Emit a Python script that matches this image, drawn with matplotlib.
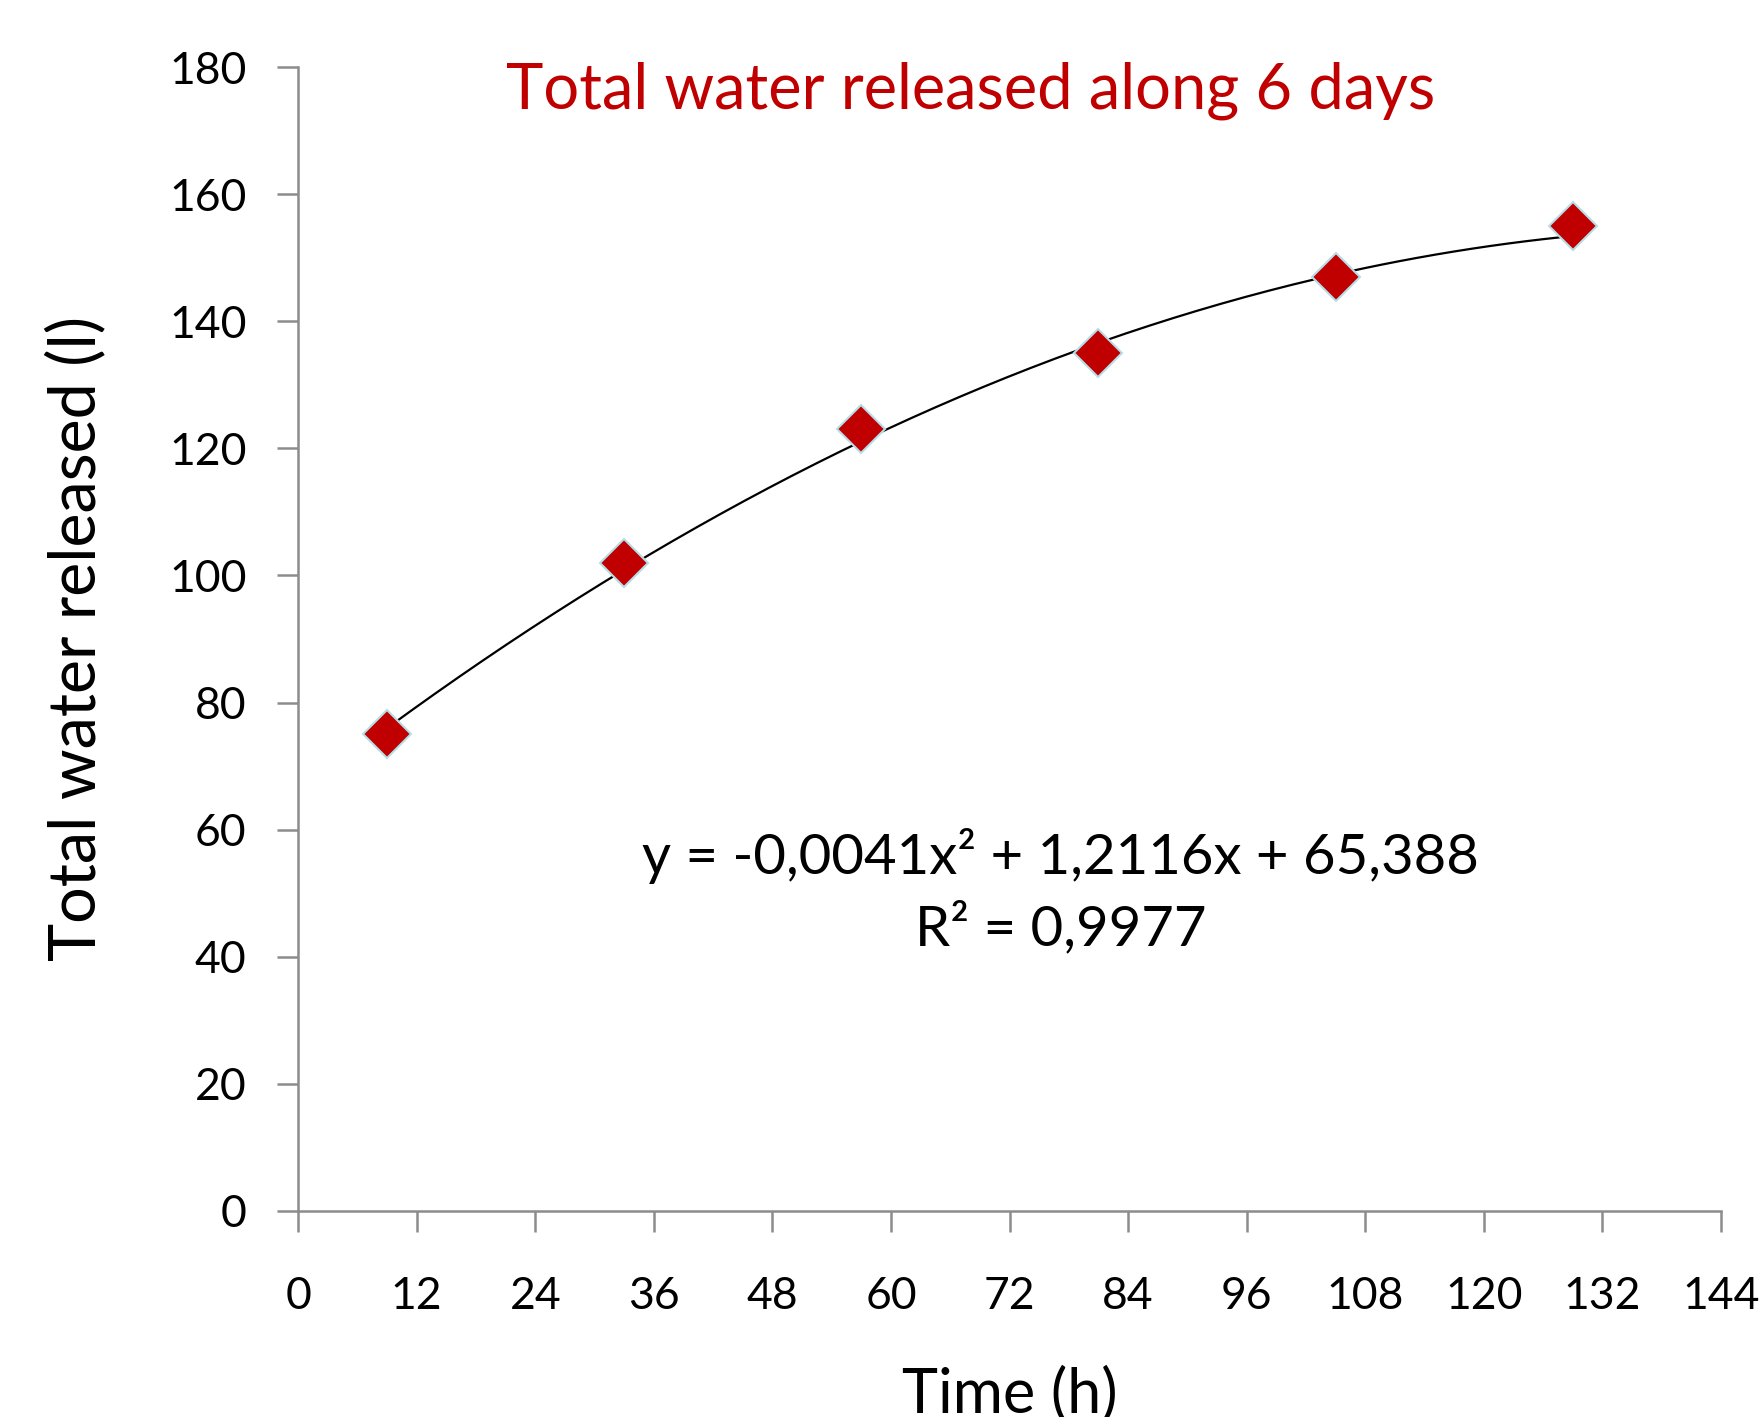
import numpy as np
import matplotlib.pyplot as plt

plt.rcParams['font.family'] = ['Lato', 'DejaVu Sans']

# Datos
tiempo = [9, 33, 57, 81, 105, 129]
agua = [75, 102, 123, 135, 147, 155]
coef = [-0.0041, 1.2116, 65.388]   # linea de tendencia (polinomio grado 2)
xticks = list(range(0, 145, 12))
yticks = list(range(0, 181, 20))

fig = plt.figure(figsize=(17.64, 14.17), dpi=100)
ax = fig.add_axes([0.169, 0.1457, 0.8066, 0.8067])

# Linea de tendencia
xs = np.linspace(min(tiempo), max(tiempo), 200)
ax.plot(xs, np.polyval(coef, xs), color='black', lw=1.6, zorder=2)

# Puntos
ax.plot(tiempo, agua, linestyle='none', marker='D', ms=24, mfc='#C00000',
        mec='#B7DEE8', mew=1.5, zorder=3)

ax.set_xlim(0, 144)
ax.set_ylim(0, 180)
ax.set_xticks(xticks)
ax.set_yticks(yticks)

gris = '#8C8C8C'
for s in ['top', 'right']:
    ax.spines[s].set_visible(False)
for s in ['left', 'bottom']:
    ax.spines[s].set_color(gris)
    ax.spines[s].set_linewidth(1.8)
ax.tick_params(axis='both', direction='out', color=gris, width=1.8, length=15,
               labelsize=32)
ax.tick_params(axis='x', pad=32)
ax.tick_params(axis='y', pad=22)

ax.set_ylabel('Total water released (l)', fontsize=46.5, labelpad=45)
ax.set_xlabel('Time (h)', fontsize=44, labelpad=36)

ax.text(0.473, 0.980, 'Total water released along 6 days', transform=ax.transAxes,
        ha='center', va='center', fontsize=45.5, color='#C00000')

ax.text(0.536, 0.279, 'y = -0,0041x² + 1,2116x + 65,388\nR² = 0,9977',
        transform=ax.transAxes, ha='center', va='center', fontsize=40.5,
        linespacing=1.42)

fig.savefig('out.png', dpi=100)
